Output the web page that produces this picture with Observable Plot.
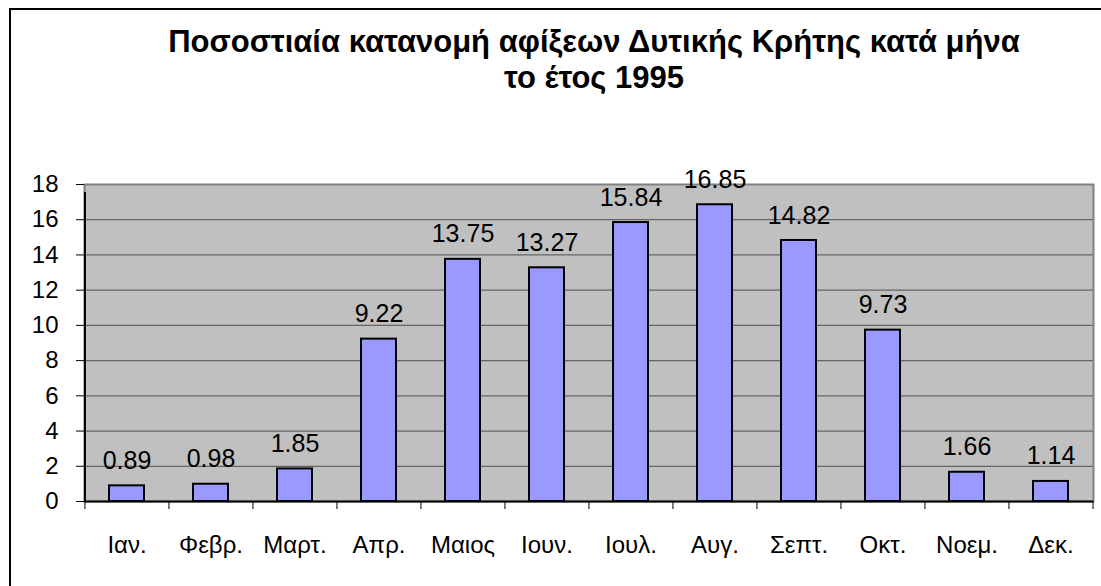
<!DOCTYPE html>
<html>
<head>
<meta charset="utf-8">
<script src="https://cdn.jsdelivr.net/npm/d3@7"></script>
<script src="https://cdn.jsdelivr.net/npm/@observablehq/plot@0.6"></script>
<style>
  html, body { margin: 0; padding: 0; background: #fff; overflow: hidden; }
  #wrap { position: relative; width: 1101px; height: 586px; overflow: hidden; font-family: "Liberation Sans", Arial, sans-serif; }
  #border { position: absolute; left: 9px; top: 8px; width: 1110px; height: 600px; border: 2px solid #000; box-sizing: border-box; }
  #title { position: absolute; left: 0; top: 24px; width: 1101px; box-sizing: border-box; padding-left: 87px; text-align: center; font-weight: bold; font-size: 31px; line-height: 36px; color: #000; }
  #chart { position: absolute; left: 0; top: 130px; }
</style>
</head>
<body>
<div id="wrap">
  <div id="border"></div>
  <div id="title">Ποσοστιαία κατανομή αφίξεων Δυτικής Κρήτης κατά μήνα<br>το έτος 1995</div>
  <div id="chart"></div>
</div>
<script>
const months = ["Ιαν.", "Φεβρ.", "Μαρτ.", "Απρ.", "Μαιος", "Ιουν.", "Ιουλ.", "Αυγ.", "Σεπτ.", "Οκτ.", "Νοεμ.", "Δεκ."];
const values = [0.89, 0.98, 1.85, 9.22, 13.75, 13.27, 15.84, 16.85, 14.82, 9.73, 1.66, 1.14];
const yTicks = [0, 2, 4, 6, 8, 10, 12, 14, 16, 18];

const data = months.map((m, i) => ({month: m, value: values[i]}));

const W = 1101, H = 456;
const mL = 84, mR = 8, mT = 54, mB = 85;
const step = (W - mL - mR) / months.length;

const chart = Plot.plot({
  width: W,
  height: H,
  marginLeft: mL,
  marginRight: mR,
  marginTop: mT,
  marginBottom: mB,
  style: {fontFamily: "'Liberation Sans', Arial, sans-serif", fontSize: "24px", color: "#000", background: "transparent", overflow: "visible"},
  x: {domain: months, paddingInner: 0.58, paddingOuter: 0.29, label: null},
  y: {domain: [0, 18], label: null},
  marks: [
    Plot.frame({fill: "#C0C0C0", stroke: "none"}),
    Plot.ruleY(yTicks.filter(d => d > 0), {stroke: "#646464", strokeWidth: 1.2}),
    Plot.frame({stroke: "#808080", strokeWidth: 2, fill: "none"}),
    Plot.barY(data, {x: "month", y: "value", fill: "#9999FF", stroke: "#000", strokeWidth: 2}),
    Plot.text(data, {x: "month", y: "value", text: d => d.value.toFixed(2), lineAnchor: "bottom", dy: -17, fontSize: 25, fill: "#000"}),
    Plot.ruleY([0], {stroke: "#000", strokeWidth: 2}),
    Plot.ruleX(months, {x: d => d, y1: 0, y2: 0, insetBottom: -8, dx: -step / 2, stroke: "#000", strokeWidth: 1}),
    Plot.ruleX([months[months.length - 1]], {x: d => d, y1: 0, y2: 0, insetBottom: -8, dx: step / 2, stroke: "#000", strokeWidth: 1}),
    Plot.ruleX([months[0]], {x: d => d, y1: 0, y2: 18, insetBottom: -8, dx: -step / 2, stroke: "#000", strokeWidth: 2}),
    Plot.axisY({ticks: yTicks, tickSize: 8, tickPadding: 18, tickFormat: d => String(d), fontSize: 24, stroke: "#000", label: null}),
    Plot.axisX({tickSize: 0, tickPadding: 34, fontSize: 24, label: null})
  ]
});
document.getElementById("chart").appendChild(chart);
</script>
</body>
</html>
